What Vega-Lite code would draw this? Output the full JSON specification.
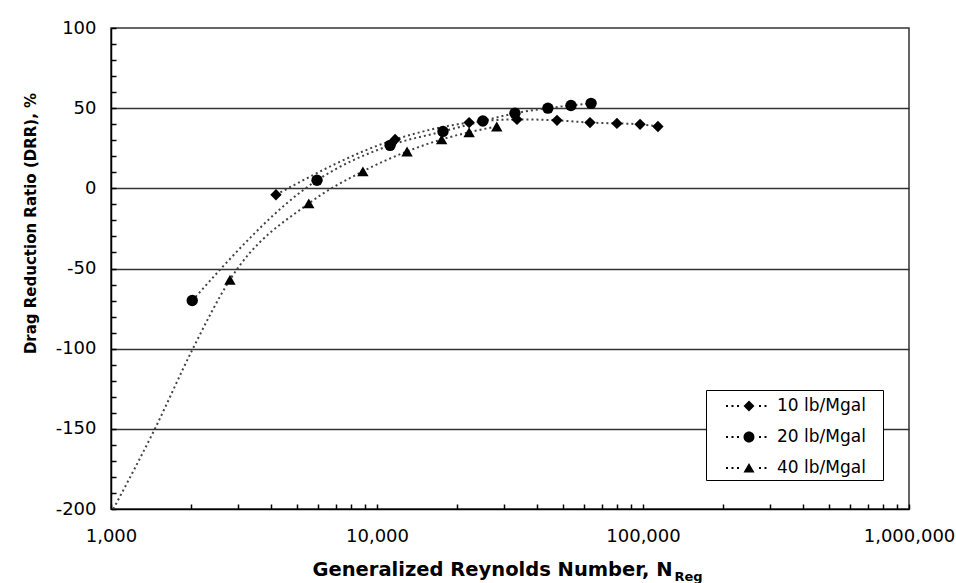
{
  "$schema": "https://vega.github.io/schema/vega-lite/v6.json",
  "width": 798,
  "height": 481,
  "autosize": {"type": "none"},
  "padding": {"left": 111, "top": 28, "right": 47, "bottom": 74},
  "background": "white",
  "config": {
    "view": {"stroke": "#333", "strokeWidth": 1.5},
    "axis": {"labelColor": "#000", "titleColor": "#000"}
  },
  "datasets": {
    "pts": [
      {"series": "10 lb/Mgal", "re": 4170, "drr": -4, "role": "data"},
      {"series": "10 lb/Mgal", "re": 11700, "drr": 30.5, "role": "data"},
      {"series": "10 lb/Mgal", "re": 22200, "drr": 41, "role": "data"},
      {"series": "10 lb/Mgal", "re": 33600, "drr": 43, "role": "data"},
      {"series": "10 lb/Mgal", "re": 47500, "drr": 42.4, "role": "data"},
      {"series": "10 lb/Mgal", "re": 63200, "drr": 41, "role": "data"},
      {"series": "10 lb/Mgal", "re": 79800, "drr": 40.5, "role": "data"},
      {"series": "10 lb/Mgal", "re": 97500, "drr": 39.9, "role": "data"},
      {"series": "10 lb/Mgal", "re": 113800, "drr": 38.6, "role": "data"},
      {"series": "20 lb/Mgal", "re": 2020, "drr": -70, "role": "data"},
      {"series": "20 lb/Mgal", "re": 5950, "drr": 5, "role": "data"},
      {"series": "20 lb/Mgal", "re": 11200, "drr": 26.8, "role": "data"},
      {"series": "20 lb/Mgal", "re": 17700, "drr": 35.5, "role": "data"},
      {"series": "20 lb/Mgal", "re": 25000, "drr": 42, "role": "data"},
      {"series": "20 lb/Mgal", "re": 33000, "drr": 46.8, "role": "data"},
      {"series": "20 lb/Mgal", "re": 43900, "drr": 50, "role": "data"},
      {"series": "20 lb/Mgal", "re": 53600, "drr": 51.7, "role": "data"},
      {"series": "20 lb/Mgal", "re": 63800, "drr": 53, "role": "data"},
      {"series": "40 lb/Mgal", "re": 1020, "drr": -200, "role": "trend"},
      {"series": "40 lb/Mgal", "re": 1462, "drr": -150, "role": "trend"},
      {"series": "40 lb/Mgal", "re": 2031, "drr": -100, "role": "trend"},
      {"series": "40 lb/Mgal", "re": 2800, "drr": -57, "role": "data"},
      {"series": "40 lb/Mgal", "re": 5540, "drr": -9.4, "role": "data"},
      {"series": "40 lb/Mgal", "re": 8850, "drr": 10.6, "role": "data"},
      {"series": "40 lb/Mgal", "re": 12970, "drr": 23, "role": "data"},
      {"series": "40 lb/Mgal", "re": 17500, "drr": 30.5, "role": "data"},
      {"series": "40 lb/Mgal", "re": 22200, "drr": 35, "role": "data"},
      {"series": "40 lb/Mgal", "re": 28200, "drr": 38.6, "role": "data"}
    ]
  },
  "data": {"name": "pts"},
  "encoding": {
    "x": {
      "field": "re",
      "type": "quantitative",
      "scale": {"type": "log", "domain": [1000, 1000000]},
      "axis": {
        "title": "Generalized Reynolds Number, N",
        "values": [1000, 2000, 3000, 4000, 5000, 6000, 7000, 8000, 9000, 10000, 20000, 30000, 40000, 50000, 60000, 70000, 80000, 90000, 100000, 200000, 300000, 400000, 500000, 600000, 700000, 800000, 900000, 1000000],
        "labelExpr": "indexof([1000, 10000, 100000, 1000000], datum.value) >= 0 ? format(datum.value, ',') : ''",
        "labelOverlap": false,
        "labelFlush": false,
        "grid": false,
        "tickSize": -5,
        "tickColor": "#000",
        "tickWidth": 1.5,
        "domainColor": "#000",
        "domainWidth": 1.5,
        "labelFont": "DejaVu Sans",
        "labelFontSize": 18,
        "labelPadding": 23,
        "titleFont": "DejaVu Sans",
        "titleFontWeight": "bold",
        "titleFontSize": 19.5,
        "titleAlign": "left",
        "titleX": 201,
        "titleY": 66,
        "titleBaseline": "alphabetic"
      }
    },
    "y": {
      "field": "drr",
      "type": "quantitative",
      "scale": {"domain": [-200, 100], "nice": false, "zero": false},
      "axis": {
        "title": "Drag Reduction Ratio (DRR), %",
        "values": [-200, -190, -180, -170, -160, -150, -140, -130, -120, -110, -100, -90, -80, -70, -60, -50, -40, -30, -20, -10, 0, 10, 20, 30, 40, 50, 60, 70, 80, 90, 100],
        "labelExpr": "datum.value % 50 === 0 ? (datum.value < 0 ? '-' + format(-datum.value, 'd') : format(datum.value, 'd')) : ''",
        "labelOverlap": false,
        "grid": true,
        "gridColor": "#333",
        "gridWidth": 1.5,
        "gridOpacity": {"condition": {"test": "datum.value % 50 === 0 && datum.value > -200 && datum.value < 100", "value": 1}, "value": 0},
        "tickSize": -5,
        "tickColor": "#000",
        "tickWidth": 1.5,
        "domainColor": "#000",
        "domainWidth": 1.5,
        "labelFont": "DejaVu Sans",
        "labelFontSize": 18,
        "labelPadding": 20,
        "titleFont": "DejaVu Sans",
        "titleFontWeight": "bold",
        "titleFontSize": 15,
        "titleX": -81,
        "titleY": 195,
        "titleAlign": "center",
        "titleBaseline": "middle",
        "titleAngle": 270
      }
    }
  },
  "layer": [
    {
      "mark": {"type": "line", "interpolate": "monotone", "strokeDash": [2, 3], "strokeWidth": 2, "color": "#444"},
      "encoding": {"detail": {"field": "series"}}
    },
    {
      "transform": [{"filter": "datum.role === 'data'"}],
      "mark": {"type": "point", "filled": true, "opacity": 1, "color": "#000", "size": 130},
      "encoding": {
        "x": {"field": "re", "type": "quantitative", "scale": {"type": "log", "domain": [1000, 1000000]}, "axis": null},
        "shape": {
          "field": "series",
          "type": "nominal",
          "scale": {"domain": ["10 lb/Mgal", "20 lb/Mgal", "40 lb/Mgal"], "range": ["diamond", "circle", "triangle-up"]},
          "legend": null
        }
      }
    },
    {
      "transform": [{"filter": "datum.role === 'data'"}],
      "mark": {"type": "point", "filled": true, "color": "#000", "opacity": 0},
      "encoding": {
        "x": {
          "field": "re",
          "type": "quantitative",
          "scale": {"type": "log", "domain": [1000, 1000000]},
          "axis": {
            "orient": "top",
            "title": "Reg",
            "labels": false,
            "ticks": false,
            "domain": false,
            "grid": false,
            "titleFont": "DejaVu Sans",
            "titleFontWeight": "bold",
            "titleFontSize": 13,
            "titleAlign": "left",
            "titleX": 563,
            "titleY": 552,
            "titleBaseline": "alphabetic"
          }
        },
        "shape": {
          "field": "series",
          "type": "nominal",
          "scale": {
            "domain": ["10 lb/Mgal", "20 lb/Mgal", "40 lb/Mgal"],
            "range": [
              "M-1.916,-0.083h0.166v0.166h-0.166ZM-1.458,-0.083h0.166v0.166h-0.166ZM-1,-0.083h0.166v0.166h-0.166ZM0.834,-0.083h0.166v0.166h-0.166ZM1.292,-0.083h0.166v0.166h-0.166ZM-0.458,0L0,-0.458L0.458,0L0,0.458Z",
              "M-1.916,-0.083h0.166v0.166h-0.166ZM-1.458,-0.083h0.166v0.166h-0.166ZM-1,-0.083h0.166v0.166h-0.166ZM0.834,-0.083h0.166v0.166h-0.166ZM1.292,-0.083h0.166v0.166h-0.166ZM0.458,0A0.458,0.458,0,1,1,-0.458,0A0.458,0.458,0,1,1,0.458,0Z",
              "M-1.916,-0.083h0.166v0.166h-0.166ZM-1.458,-0.083h0.166v0.166h-0.166ZM-1,-0.083h0.166v0.166h-0.166ZM0.834,-0.083h0.166v0.166h-0.166ZM1.292,-0.083h0.166v0.166h-0.166ZM0,-0.42L0.458,0.375L-0.458,0.375Z"
            ]
          },
          "legend": {
            "orient": "none",
            "legendX": 595,
            "legendY": 362,
            "title": null,
            "strokeColor": "#000",
            "fillColor": "#fff",
            "padding": 4,
            "symbolSize": 576,
            "symbolOffset": 27,
            "labelOffset": 16,
            "rowPadding": 11,
            "labelFont": "DejaVu Sans",
            "labelFontSize": 17,
            "labelColor": "#000",
            "labelExpr": "datum.label + '\u2800'",
            "symbolFillColor": "#000",
            "symbolOpacity": 1,
            "symbolStrokeWidth": 0,
            "encode": {
              "symbols": {
                "fill": {"value": "#000"},
                "opacity": {"value": 1},
                "strokeWidth": {"value": 0}
              },
              "legend": {"strokeWidth": {"value": 1.5}}
            }
          }
        }
      }
    }
  ],
  "resolve": {"axis": {"x": "independent"}, "scale": {"shape": "independent"}}
}
